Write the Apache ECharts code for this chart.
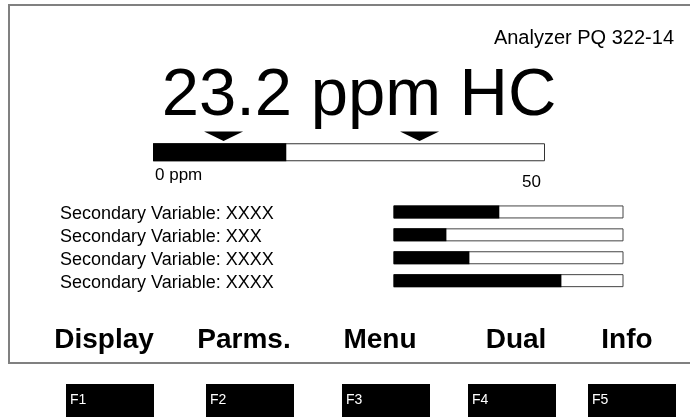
<!DOCTYPE html>
<html>
<head>
<meta charset="utf-8">
<script src="https://cdn.jsdelivr.net/npm/echarts@6/dist/echarts.min.js"></script>
<style>
html,body{margin:0;padding:0;background:#fff;}
#chart{width:690px;height:417px;}
</style>
</head>
<body>
<div id="chart"></div>
<script>
// ---- data ----
const mainReading = '23.2 ppm HC';
const analyzerName = 'Analyzer PQ 322-14';
const primaryCategory = ['HC'];
const primaryValue = [17];
const primaryMax = 50;
const primaryMarkers = [9, 34];
const scaleLabels = ['0 ppm', '50'];
const secondaryLabels = ['Secondary Variable: XXXX', 'Secondary Variable: XXX', 'Secondary Variable: XXXX', 'Secondary Variable: XXXX'];
const secondaryValues = [46, 23, 33, 73];
const secondaryMax = 100;
const softKeyLabels = ['Display', 'Parms.', 'Menu', 'Dual', 'Info'];
const functionKeys = ['F1', 'F2', 'F3', 'F4', 'F5'];

// ---- layout / style ----
const FONT = '"Liberation Sans", Arial, sans-serif';
const softKeyX = [104, 244, 380, 516, 627];
const fKeyLeft = [66, 206, 342, 468, 588];

const graphics = [];
graphics.push({
  type: 'rect', shape: { x: 9, y: 5, width: 700, height: 358 },
  style: { fill: 'none', stroke: '#808080', lineWidth: 2 }, silent: true
});
graphics.push({
  type: 'text', x: 674, y: 38.5,
  style: { text: analyzerName, font: '20px ' + FONT, fill: '#000', textAlign: 'right', textVerticalAlign: 'middle' }
});
graphics.push({
  type: 'text', x: 359, y: 96.8,
  style: { text: mainReading, font: '67px ' + FONT, fill: '#000', textAlign: 'center', textVerticalAlign: 'middle' }
});
graphics.push({
  type: 'text', x: 155, y: 175.5,
  style: { text: scaleLabels[0], font: '17px ' + FONT, fill: '#000', textAlign: 'left', textVerticalAlign: 'middle' }
});
graphics.push({
  type: 'text', x: 541, y: 182.3,
  style: { text: scaleLabels[1], font: '17px ' + FONT, fill: '#000', textAlign: 'right', textVerticalAlign: 'middle' }
});
softKeyLabels.forEach((t, i) => {
  graphics.push({
    type: 'text', x: softKeyX[i], y: 340.3,
    style: { text: t, font: 'bold 28px ' + FONT, fill: '#000', textAlign: 'center', textVerticalAlign: 'middle' }
  });
});
functionKeys.forEach((t, i) => {
  graphics.push({
    type: 'rect', shape: { x: fKeyLeft[i], y: 384, width: 88, height: 40 },
    style: { fill: '#000' }, silent: true
  });
  graphics.push({
    type: 'text', x: fKeyLeft[i] + 4, y: 400,
    style: { text: t, font: '14px ' + FONT, fill: '#fff', textAlign: 'left', textVerticalAlign: 'middle' }
  });
});

const chart = echarts.init(document.getElementById('chart'), null, { renderer: 'canvas' });
chart.setOption({
  animation: false,
  backgroundColor: '#fff',
  grid: [
    { left: 153, top: 143, width: 392, height: 18.5, outerBoundsMode: 'none' },
    { left: 393.5, top: 200.5, width: 230, height: 91.6, outerBoundsMode: 'none' },
    { left: 393.5, top: 203, width: 230, height: 91.6, outerBoundsMode: 'none' }
  ],
  xAxis: [
    { gridIndex: 0, type: 'value', min: 0, max: primaryMax, show: false },
    { gridIndex: 1, type: 'value', min: 0, max: secondaryMax, show: false },
    { gridIndex: 2, type: 'value', min: 0, max: secondaryMax, show: false }
  ],
  yAxis: [
    { gridIndex: 0, type: 'category', data: primaryCategory, show: false },
    {
      gridIndex: 1, type: 'category', data: secondaryLabels, inverse: true,
      axisLine: { show: false }, axisTick: { show: false }, splitLine: { show: false },
      axisLabel: { show: false }
    },
    {
      gridIndex: 2, type: 'category', data: secondaryLabels, inverse: true,
      axisLine: { show: false }, axisTick: { show: false }, splitLine: { show: false },
      axisLabel: {
        show: true, interval: 0, hideOverlap: false, align: 'left', margin: 333.5,
        fontSize: 18, color: '#000', fontFamily: FONT
      }
    }
  ],
  graphic: graphics,
  series: [
    {
      type: 'bar', xAxisIndex: 0, yAxisIndex: 0, data: primaryCategory.map(() => primaryMax),
      barWidth: 18, barGap: '-100%', silent: true,
      itemStyle: { color: '#fff', borderColor: '#333', borderWidth: 1 }
    },
    {
      type: 'bar', xAxisIndex: 0, yAxisIndex: 0, data: primaryValue,
      barWidth: 18, barGap: '-100%', silent: true,
      itemStyle: { color: '#000' }
    },
    {
      type: 'scatter', xAxisIndex: 0, yAxisIndex: 0, clip: false, silent: true,
      data: primaryMarkers.map(v => [v, 0]),
      symbol: 'path://M0,0 L40,0 L20,10 Z', symbolKeepAspect: false,
      symbolSize: [39, 9.5], symbolOffset: [0, -16],
      itemStyle: { color: '#000', opacity: 1 }
    },
    {
      type: 'bar', xAxisIndex: 1, yAxisIndex: 1, data: secondaryLabels.map(() => secondaryMax),
      barWidth: 13, barGap: '-100%', silent: true,
      itemStyle: { color: '#fff', borderColor: '#444', borderWidth: 1 }
    },
    {
      type: 'bar', xAxisIndex: 1, yAxisIndex: 1, data: secondaryValues,
      barWidth: 13, barGap: '-100%', silent: true,
      itemStyle: { color: '#000' }
    }
  ]
});
</script>
</body>
</html>
